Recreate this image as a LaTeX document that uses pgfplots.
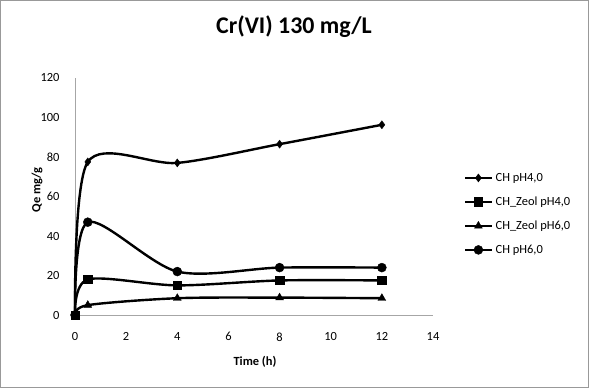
\documentclass[border=0pt]{standalone}
\usepackage{pgfplots}
\pgfplotsset{compat=1.18}
\usepackage{fontspec}
\setmainfont{Carlito}
\begin{document}
\begin{tikzpicture}[x=1bp,y=1bp]
\draw[gray!80, line width=1bp] (0.5,0.5) rectangle (588.5,387.5);
\node[font=\bfseries\fontsize{24}{28}\selectfont] at (294,361) {Cr(VI) 130 mg/L};
\node[font=\bfseries\fontsize{12.5}{14}\selectfont, rotate=90] at (37,198) {Qe mg/g};
\node[font=\bfseries\fontsize{12.5}{14}\selectfont] at (255,26) {Time (h)};
\begin{axis}[
  at={(75bp,73bp)}, anchor=origin,
  scale only axis, width=358bp, height=237bp,
  xmin=0, xmax=14, ymin=0, ymax=120,
  xtick={0,2,...,14}, ytick={0,20,...,120},
  axis x line=bottom, axis y line=left,
  axis line style={gray!70, line width=0.8bp, -},
  major tick length=0pt,
  tick label style={font=\fontsize{12.5}{14}\selectfont},
  xticklabel style={yshift=-14bp},
  yticklabel style={xshift=-12bp},
  /pgf/number format/assume math mode=true,
  clip=false,
  legend style={at={(389bp,101bp)}, anchor=west, draw=none, fill=none, inner sep=0pt,
    font=\fontsize{12.5}{14}\selectfont, row sep=10bp, cells={anchor=west},
    nodes={inner xsep=2bp}},
  legend cell align=left,
  legend image code/.code={\draw[#1] (0bp,0bp) -- (13bp,0bp) plot coordinates {(13bp,0bp)} -- (27bp,0bp);},
]
\addplot[black, line width=2.4bp, smooth, tension=0.5, mark=diamond*, mark size=4bp, mark options={fill=black, solid, line width=0.4bp}] coordinates {(0,0) (0.5,77.5) (4,77) (8,86.5) (12,96.3)};
\addlegendentry{CH pH4,0}
\addplot[black, line width=2.4bp, smooth, tension=0.5, mark=square*, mark size=4.2bp, mark options={fill=black, solid, line width=0.4bp}] coordinates {(0,0) (0.5,18) (4,15) (8,17.5) (12,17.5)};
\addlegendentry{CH\_Zeol pH4,0}
\addplot[black, line width=2.4bp, smooth, tension=0.5, mark=triangle*, mark size=4.5bp, mark options={fill=black, solid, line width=0.4bp}] coordinates {(0,0) (0.5,5) (4,8.5) (8,8.8) (12,8.5)};
\addlegendentry{CH\_Zeol pH6,0}
\addplot[black, line width=2.4bp, smooth, tension=0.5, mark=*, mark size=4.5bp, mark options={fill=black, solid, line width=0.4bp}] coordinates {(0,0) (0.5,47) (4,22) (8,24) (12,24)};
\addlegendentry{CH pH6,0}
\end{axis}
\end{tikzpicture}
\end{document}
